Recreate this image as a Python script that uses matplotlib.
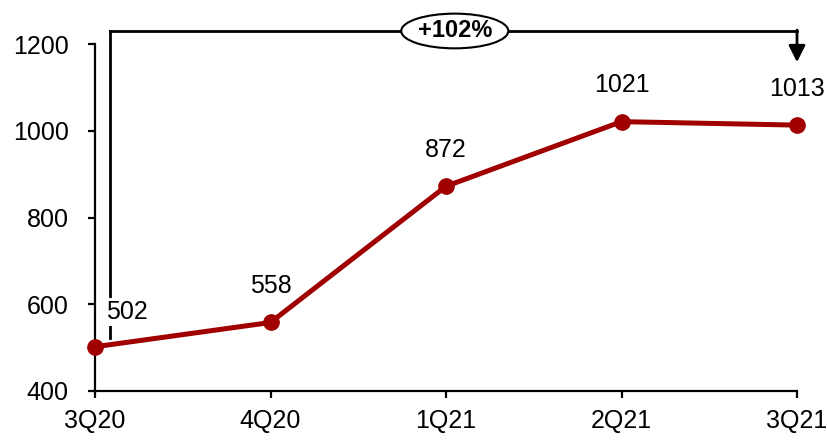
import matplotlib
matplotlib.use("Agg")
import matplotlib.pyplot as plt
from matplotlib.patches import Ellipse

plt.rcParams["font.family"] = ["Liberation Sans", "DejaVu Sans"]
FS = 18

quarters = ["3Q20", "4Q20", "1Q21", "2Q21", "3Q21"]
values = [502, 558, 872, 1021, 1013]
growth_label = "+102%"

RED = "#A00000"

fig = plt.figure(figsize=(8.27, 4.45), dpi=100)
ax = fig.add_axes([95 / 827, 54 / 445, 702 / 827, 347 / 445])

x = list(range(len(quarters)))
ax.plot(x, values, color=RED, lw=3.6, marker="o", ms=11, zorder=3, clip_on=False)

ax.set_xlim(0, len(quarters) - 1)
ax.set_ylim(400, 1200)
ax.set_yticks([400, 600, 800, 1000, 1200])
ax.set_xticks(x)
ax.set_xticklabels(quarters)

for s in ["top", "right"]:
    ax.spines[s].set_visible(False)
for s in ["left", "bottom"]:
    ax.spines[s].set_linewidth(1.6)
ax.tick_params(axis="y", direction="out", length=5, width=1.6, pad=14, labelsize=FS)
ax.tick_params(axis="x", direction="out", length=5, width=1.6, pad=8, labelsize=FS)

# value labels
for i, v in enumerate(values):
    if i == 0:
        ax.text(i + 0.18, v + 80, f"{v}", ha="center", va="center", fontsize=FS,
                bbox=dict(fc="white", ec="none", pad=1.5), zorder=4)
    else:
        ax.text(i, v + 84, f"{v}", ha="center", va="center", fontsize=FS, zorder=4)

# growth bracket
bx = 0.085
top = 1230
ax.plot([bx, bx], [522, top], color="black", lw=2, clip_on=False, zorder=2)
ax.plot([bx, x[-1]], [top, top], color="black", lw=2, clip_on=False, zorder=2)
ax.annotate("", xy=(x[-1], 1158), xytext=(x[-1], top + 2),
            arrowprops=dict(arrowstyle="-|>,head_length=1.0,head_width=0.5",
                            color="black", lw=2, shrinkA=0, shrinkB=0),
            annotation_clip=False)
ell = Ellipse((2.05, top), 0.61, 80, fc="white", ec="black", lw=1.5,
              clip_on=False, zorder=5)
ax.add_patch(ell)
ax.text(2.05, top, growth_label, ha="center", va="center", fontsize=FS - 1,
        fontweight="bold", zorder=6, clip_on=False)

fig.savefig("out.png", dpi=100)
